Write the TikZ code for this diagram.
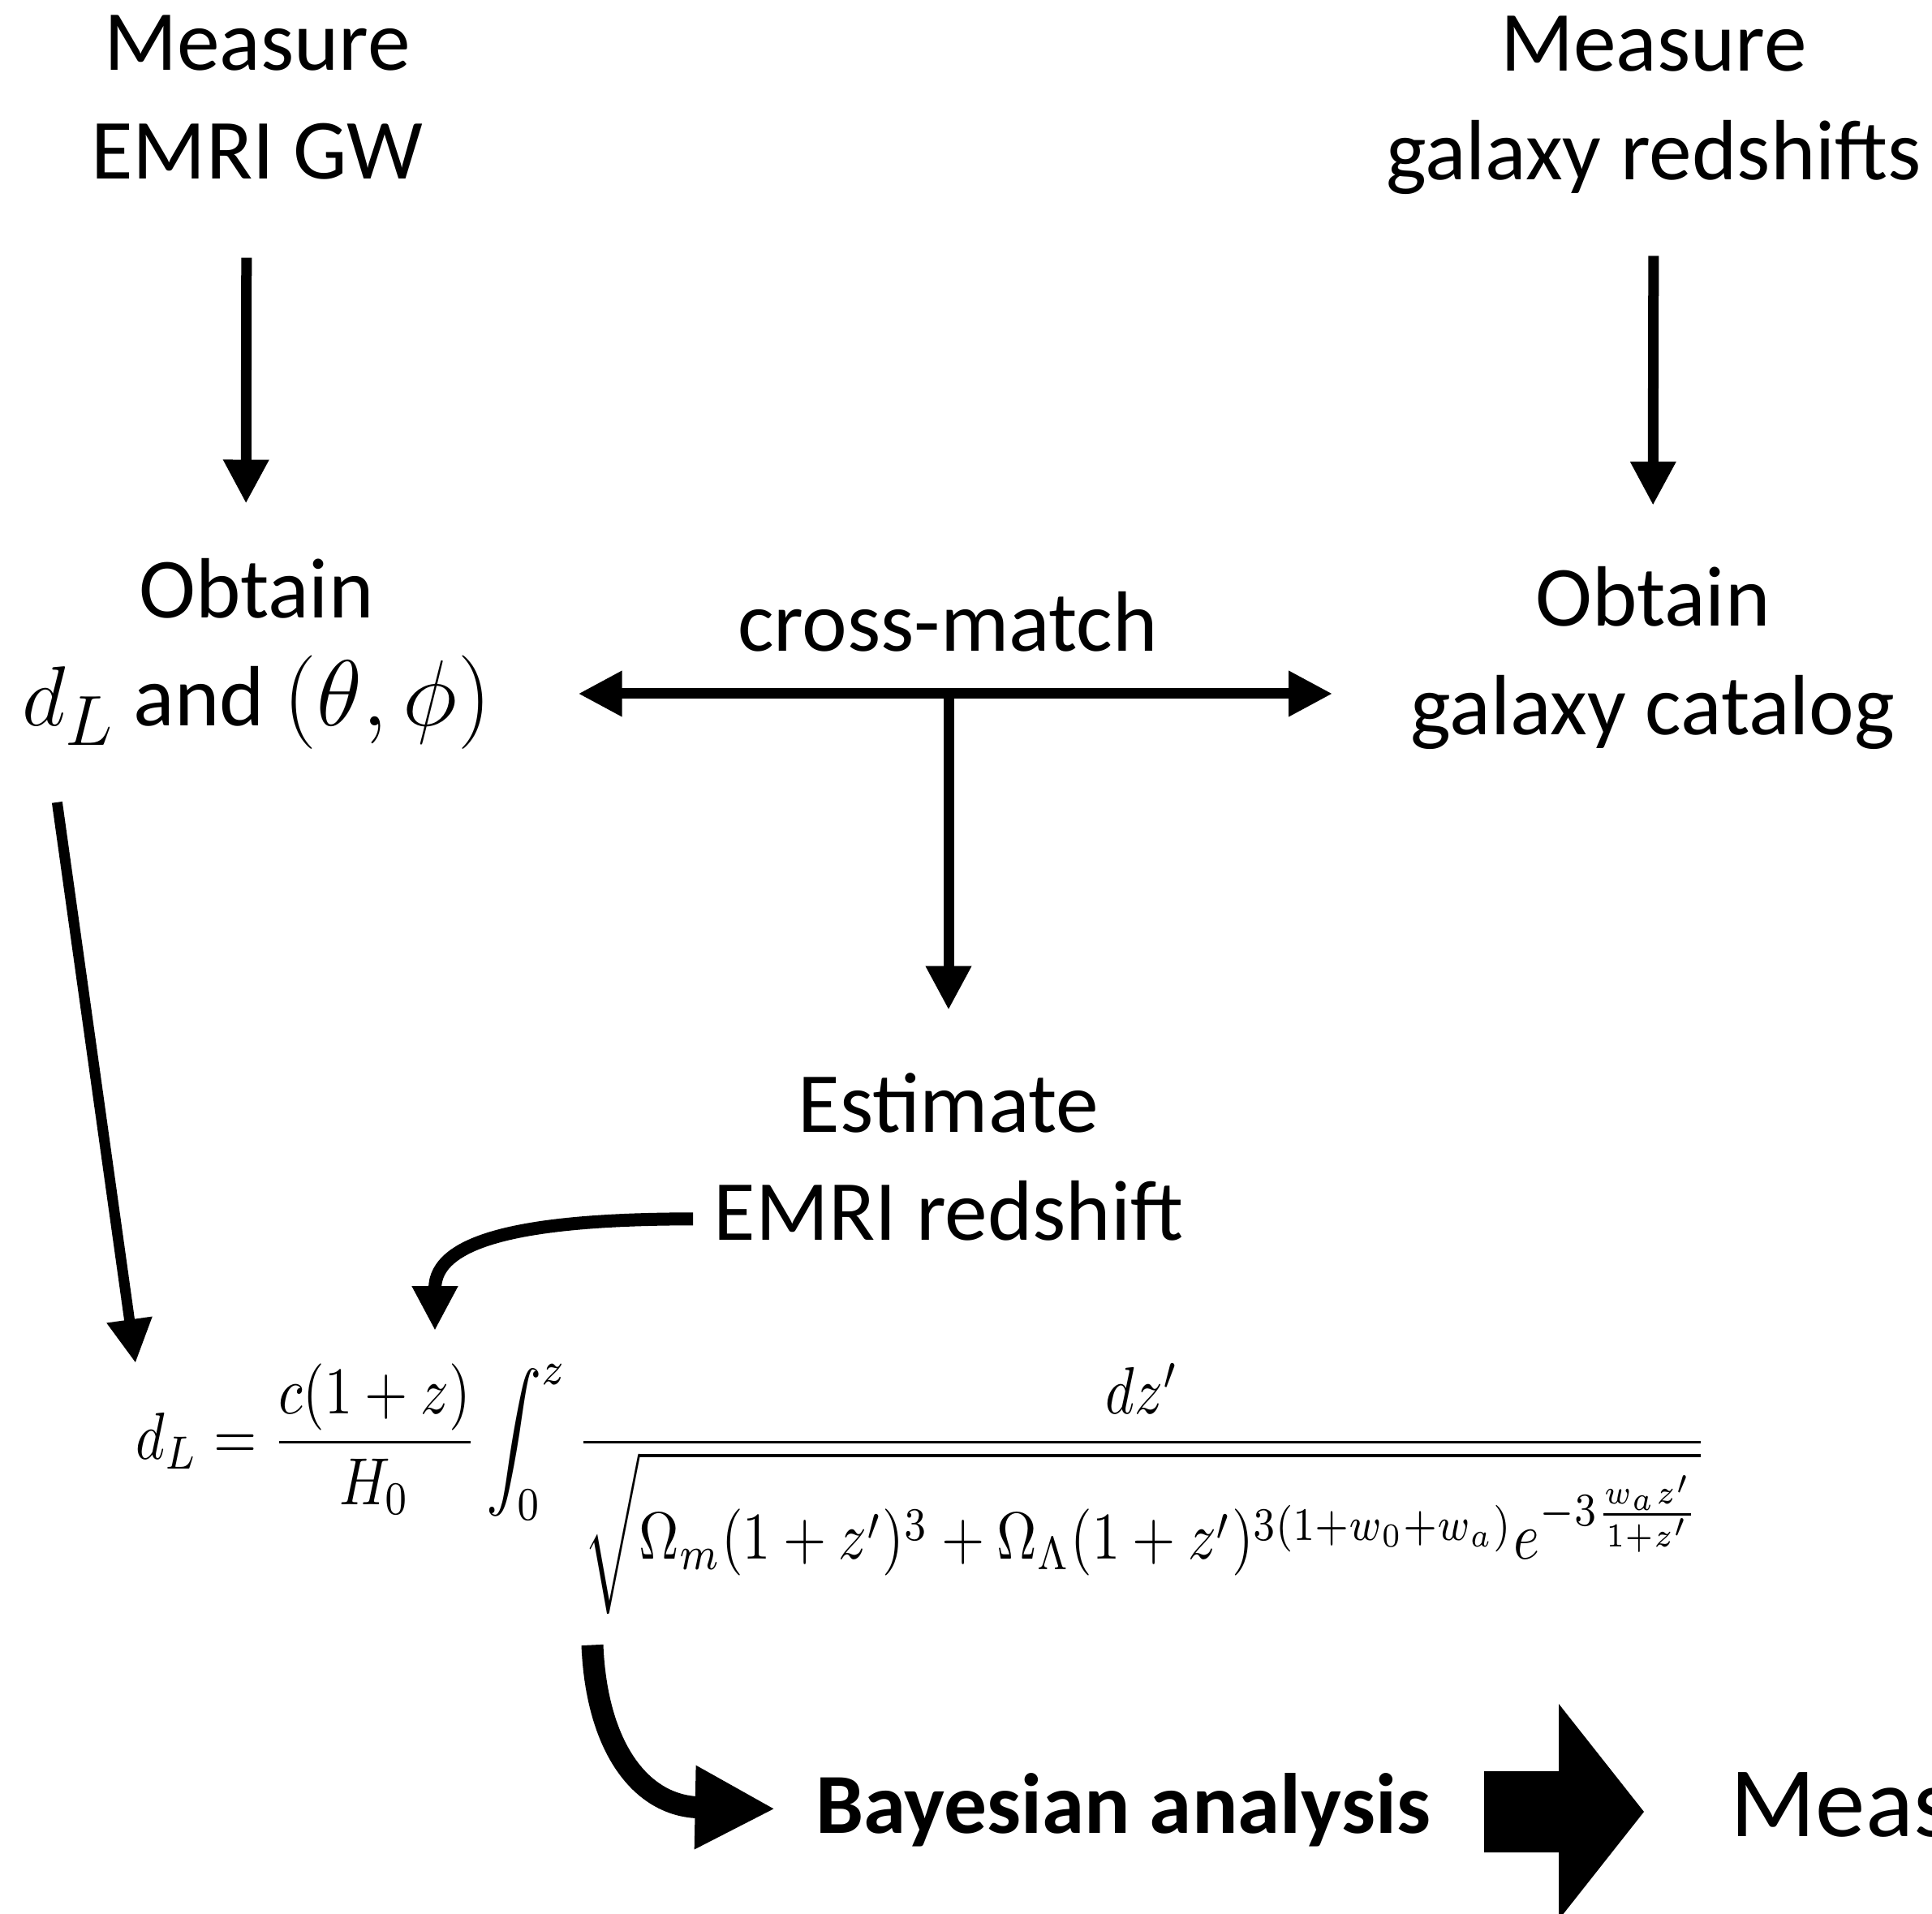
\documentclass[tikz,border=0pt]{standalone}
\usepackage{fontspec}
\setmainfont{Carlito}
\usepackage{graphicx}
\usetikzlibrary{arrows.meta}

\tikzstyle{step-text}=[inner sep=0pt,
                       align=center,
                       font=\fontsize{30}{38}\selectfont,
                      ]
\tikzstyle{thin-arrow}=[line width=0.13cm, -{Triangle[length=0.54cm,width=0.53cm]}]
\tikzstyle{thick-arrow}=[line width=0.16cm, -{Triangle[length=0.55cm,width=0.53cm]}]
\tikzstyle{fat-arrow}=[line width=0.27cm, -{Triangle[length=0.99cm,width=0.96cm]}]

\begin{document}
\begin{tikzpicture}
    \useasboundingbox (0,0) rectangle (23.81,-23.59);

    % Steps
    % --------------------------------------------------------------------------
    \node at ( 3.17, -1.20) (measure_gw)  [step-text] {Measure\\EMRI GW};
    \node at (20.38, -1.30) (measure_z)   [step-text] {Measure\\galaxy redshifts};

    \node at ( 3.16, -8.06) (obtain_dl)   [step-text]
        {Obtain\\\scalebox{1.2}{$d_L$} and \scalebox{1.32}{$(\theta,\phi)$}};
    \node at (20.37, -8.11) (obtain_cat)  [step-text] {Obtain\\galaxy catalog};
    \node at (11.68, -8.02) (crossmatch)  [step-text, anchor=base] {cross-match};
    \coordinate (junction) at (11.69, -8.55);

    \node at (11.69,-14.26) (estimate)    [step-text] {Estimate\\EMRI redshift};
    \coordinate (z_in) at (5.36, -16.40);

    \node at ( 1.67,-16.80) (dl_formula)  [anchor=north west, inner sep=0pt]
        {\resizebox*{19.36cm}{3.09cm}{$\displaystyle d_L=\frac{c(1+z)}{H_0}\int_0^z
         \frac{dz'}{\sqrt{\rule[-6pt]{0pt}{6pt}\Omega_m(1+z')^3+\Omega_\Lambda(1+z')^{3(1+w_0+w_a)}e^{-3\frac{w_a z'}{1+z'}}}}$}};

    \node at (13.84,-22.59) (bayesian)    [step-text, anchor=base,
                                           font=\fontsize{30}{38}\selectfont\bfseries] {Bayesian analysis};
    \node at (21.32,-22.63) (measure_out) [anchor=base west, inner sep=0pt,
                                           font=\fontsize{35}{42}\selectfont] {Meas};

    % Arrows
    % --------------------------------------------------------------------------
    \draw[thin-arrow, shorten <=0.96cm, shorten >=0.67cm]
        ([xshift=-0.13cm]measure_gw.south) -- ([xshift=-0.13cm]obtain_dl.north);
    \draw[thin-arrow, shorten <=0.75cm, shorten >=0.75cm] (measure_z.south) -- (obtain_cat.north);

    \draw[thin-arrow, shorten >=1.07cm] (junction) -- (obtain_dl.east |- junction);
    \draw[thin-arrow, shorten >=0.96cm] (junction) -- (obtain_cat.west |- junction);
    \draw[thin-arrow, shorten >=0.77cm] (junction) -- (estimate.north);

    \draw[thin-arrow, shorten <=0.65cm] ([xshift=0.35cm]obtain_dl.south west) -- (dl_formula.north west);
    \draw[thick-arrow] ([xshift=-0.25cm, yshift=0.28cm]estimate.south west)
        .. controls +(-2.15,0) and +(0,1.10) .. (z_in);

    \draw[fat-arrow, shorten >=0.49cm] ([xshift=5.63cm, yshift=-0.37cm]dl_formula.south west)
        .. controls +(0.05,-1.24) and +(-2.16,0.04) .. (bayesian.west);
    \fill (18.29,-21.83) -- (19.21,-21.83) -- (19.21,-21.00) -- (20.26,-22.33)
        -- (19.21,-23.66) -- (19.21,-22.83) -- (18.29,-22.83) -- cycle;
\end{tikzpicture}
\end{document}
